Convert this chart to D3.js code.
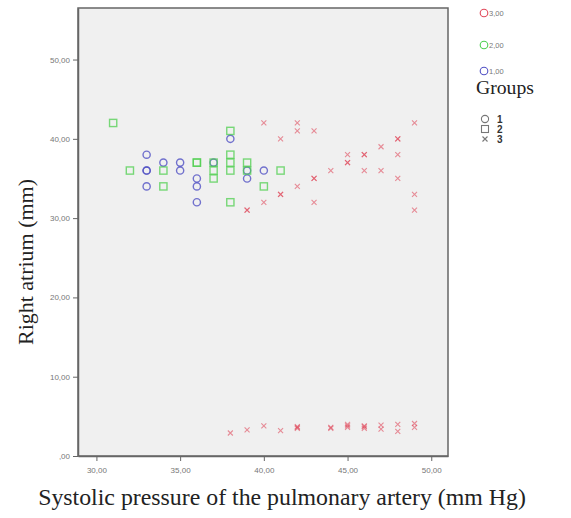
<!DOCTYPE html>
<html>
<head>
<meta charset="utf-8">
<script src="https://cdn.jsdelivr.net/npm/d3@7"></script>
<style>
  body { margin: 0; background: #fff; }
  svg { display: block; }
</style>
</head>
<body>
<svg id="chart" width="571" height="518"></svg>
<script>
// group 1 (blue circles)
const g1X = [33, 33, 33, 33, 34, 35, 35, 36, 36, 36, 37, 38, 39, 39, 40];
const g1Y = [38, 36, 36, 34, 37, 37, 36, 35, 34, 32, 37, 40, 36, 35, 36];
// group 2 (green squares)
const g2X = [31, 32, 34, 34, 36, 36, 37, 37, 37, 38, 38, 38, 38, 38, 39, 39, 40, 41];
const g2Y = [42, 36, 36, 34, 37, 37, 37, 36, 35, 41, 38, 37, 36, 32, 37, 36, 34, 36];
// group 3 (red crosses)
const g3X = [39, 39, 40, 40, 41, 41, 41, 42, 42, 42, 43, 43, 43, 43, 44, 45, 45, 45, 46, 46, 46, 47, 47, 48, 48, 48, 48, 49, 49, 49,
             38, 39, 40, 41, 42, 42, 42, 44, 44, 45, 45, 45, 46, 46, 46, 47, 47, 48, 48, 49, 49];
const g3Y = [31, 31, 42, 32, 40, 33, 33, 42, 41, 34, 41, 35, 35, 32, 36, 38, 37, 37, 38, 38, 36, 39, 36, 40, 40, 38, 35, 42, 33, 31,
             2.9, 3.3, 3.8, 3.2, 3.5, 3.6, 3.7, 3.5, 3.6, 3.6, 3.8, 4.0, 3.5, 3.7, 3.8, 3.9, 3.4, 4.0, 3.1, 4.1, 3.6];

const xTicks = [30, 35, 40, 45, 50];
const yTicks = [0, 10, 20, 30, 40, 50];
const colorLabels = ["3,00", "2,00", "1,00"];
const colors = ["#e0485a", "#4fcf4f", "#5151c4"];
const groupLabels = ["1", "2", "3"];

const svg = d3.select("#chart");
const x = d3.scaleLinear().domain([28.9, 51.0]).range([78, 448]);
const y = d3.scaleLinear().domain([0, 56.5]).range([456, 8]);
const fmt = v => d3.format(".2f")(v).replace(".", ",").replace(/^0,/, ",");

// plot background
svg.append("rect")
    .attr("x", 78).attr("y", 8).attr("width", 370).attr("height", 448)
    .attr("fill", "#f0f0f0").attr("stroke", "#666").attr("stroke-width", 1.5);

// axes
const xa = svg.append("g").attr("transform", "translate(0,456)")
    .call(d3.axisBottom(x).tickValues(xTicks).tickSize(5).tickSizeOuter(0).tickFormat(fmt));
const ya = svg.append("g").attr("transform", "translate(78,0)")
    .call(d3.axisLeft(y).tickValues(yTicks).tickSize(5).tickSizeOuter(0).tickFormat(fmt));
[xa, ya].forEach(a => {
    a.select(".domain").attr("stroke", "#666").attr("stroke-width", 1.5);
    a.selectAll(".tick line").attr("stroke", "#666");
    a.selectAll(".tick text").attr("fill", "#777")
        .style("font-family", "'Liberation Sans', Arial, sans-serif").style("font-size", "8px");
});
xa.selectAll(".tick text").attr("dy", "1.1em");

// points
const g1 = g1X.map((v, i) => [v, g1Y[i]]);
const g2 = g2X.map((v, i) => [v, g2Y[i]]);
const g3 = g3X.map((v, i) => [v, g3Y[i]]);

svg.append("g").selectAll("circle").data(g1).join("circle")
    .attr("cx", d => x(d[0])).attr("cy", d => y(d[1])).attr("r", 3.6)
    .attr("fill", "none").attr("stroke", colors[2]).attr("stroke-width", 1.4)
    .attr("stroke-opacity", 0.8);

svg.append("g").selectAll("rect").data(g2).join("rect")
    .attr("x", d => x(d[0]) - 3.6).attr("y", d => y(d[1]) - 3.6)
    .attr("width", 7.2).attr("height", 7.2)
    .attr("fill", "none").attr("stroke", colors[1]).attr("stroke-width", 1.4)
    .attr("stroke-opacity", 0.75);

const cross = d3.symbol().type(d3.symbolTimes || d3.symbolX).size(18);
svg.append("g").selectAll("path").data(g3).join("path")
    .attr("transform", d => `translate(${x(d[0])},${y(d[1])})`)
    .attr("d", cross)
    .attr("fill", "none").attr("stroke", colors[0]).attr("stroke-width", 1.1)
    .attr("stroke-opacity", 0.6);

// axis titles, fitted to the widths in the picture
function fit(sel, width) {
    const w = sel.node().getComputedTextLength();
    const fs = parseFloat(sel.style("font-size"));
    sel.style("font-size", (fs * width / w) + "px");
}
const serif = "'Liberation Serif', 'DejaVu Serif', serif";

const xt = svg.append("text").attr("x", 282).attr("y", 505).attr("text-anchor", "middle")
    .style("font-family", serif).style("font-size", "16px").attr("fill", "#222")
    .text("Systolic pressure of the pulmonary artery (mm Hg)");
fit(xt, 488);

const yt = svg.append("text").attr("transform", "translate(33,262) rotate(-90)")
    .attr("text-anchor", "middle")
    .style("font-family", serif).style("font-size", "16px").attr("fill", "#222")
    .text("Right atrium (mm)");
fit(yt, 166);

// legend: colours
const leg = svg.append("g");
colorLabels.forEach((t, i) => {
    const cy = [13, 45, 71][i];
    leg.append("circle").attr("cx", 484).attr("cy", cy).attr("r", 3.8)
        .attr("fill", "none").attr("stroke", colors[i]).attr("stroke-width", 1.1);
    leg.append("text").attr("x", 489).attr("y", cy + 3).text(t)
        .attr("fill", "#777").style("font-family", "'Liberation Sans', Arial, sans-serif")
        .style("font-size", "7.5px");
});

const gt = leg.append("text").attr("x", 476).attr("y", 94).text("Groups")
    .style("font-family", serif).style("font-size", "16px").attr("fill", "#222");
fit(gt, 58);

// legend: shapes
const shY = [119, 129, 139];
leg.append("circle").attr("cx", 485).attr("cy", shY[0]).attr("r", 3.6)
    .attr("fill", "none").attr("stroke", "#777").attr("stroke-width", 1.1);
leg.append("rect").attr("x", 481.5).attr("y", shY[1] - 3.5).attr("width", 7).attr("height", 7)
    .attr("fill", "none").attr("stroke", "#777").attr("stroke-width", 1.1);
leg.append("path").attr("transform", `translate(485,${shY[2]})`).attr("d", cross)
    .attr("fill", "none").attr("stroke", "#777").attr("stroke-width", 1.1);
groupLabels.forEach((t, i) => {
    leg.append("text").attr("x", 497).attr("y", shY[i] + 4).text(t)
        .attr("fill", "#333").style("font-family", "'Liberation Sans', Arial, sans-serif")
        .style("font-size", "10px").style("font-weight", "bold");
});
</script>
</body>
</html>
